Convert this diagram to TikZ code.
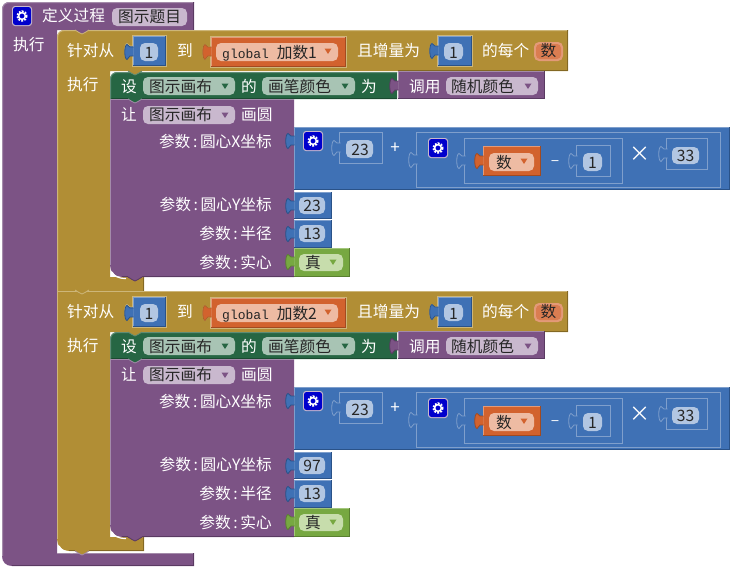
\documentclass[tikz,border=0pt]{standalone}
\usepackage{fontspec}
\setmainfont{Noto Sans CJK SC}
\newfontfamily\gfont{Liberation Mono}
\definecolor{purB}{HTML}{7C5385}\definecolor{purL}{HTML}{A48BAA}\definecolor{purD}{HTML}{5A3A62}\definecolor{purP}{HTML}{C9B8CE}
\definecolor{golB}{HTML}{B18E35}\definecolor{golL}{HTML}{CDB679}\definecolor{golD}{HTML}{836823}
\definecolor{grnB}{HTML}{266643}\definecolor{grnL}{HTML}{5F8C74}\definecolor{grnD}{HTML}{1A4A30}\definecolor{grnP}{HTML}{A8C4B4}
\definecolor{bluB}{HTML}{3F71B5}\definecolor{bluL}{HTML}{7F9FCC}\definecolor{bluD}{HTML}{2A5288}\definecolor{bluP}{HTML}{B2C6E2}
\definecolor{oraB}{HTML}{D2622E}\definecolor{oraL}{HTML}{E39A78}\definecolor{oraD}{HTML}{A24A20}\definecolor{oraP}{HTML}{EEBBA3}
\definecolor{lgrB}{HTML}{77A841}\definecolor{lgrL}{HTML}{A3C67C}\definecolor{lgrD}{HTML}{597F30}\definecolor{lgrP}{HTML}{C7DDAC}
\definecolor{inkT}{HTML}{262626}
\newcommand{\Cln}{\hspace{2.6pt}:\hspace{2.6pt}}
\tikzset{
  every node/.style={font=\fontsize{15.7}{18}\selectfont, inner sep=0pt},
  tw/.style={text=white, anchor=base west, yshift=-6pt},
  twe/.style={text=white, anchor=base east, yshift=-6pt},
  twc/.style={text=white, anchor=base, yshift=-6pt},
  tk/.style={text=inkT, anchor=base west, yshift=-6pt},
  tkc/.style={text=inkT, anchor=base, yshift=-6pt},
  bev/.style={line width=1pt, line cap=butt}
}
% rectangular block with bevel: colour prefix, x1,y1,x2,y2
\newcommand{\Blk}[5]{%
  \fill[#1B] (#2,#3) rectangle (#4,#5);
  \draw[bev,#1L] (#2+.5,#5) -- (#2+.5,#3+.5) -- (#4,#3+.5);
  \draw[bev,#1D] (#2,#5-.5) -- (#4-.5,#5-.5) -- (#4-.5,#3);
}
% puzzle tab on the left of x at height y
\newcommand{\Tab}[4]{%
  \path[fill=#1,draw=#2,line width=.8pt] (#3+.6,#4-5) -- (#3-3,#4-5) .. controls (#3-5,#4-5) and (#3-4,#4-7.5) .. (#3-6,#4-7.5)
    .. controls (#3-9,#4-7) and (#3-9,#4+7) .. (#3-6,#4+7.5)
    .. controls (#3-4,#4+7.5) and (#3-5,#4+4) .. (#3-3,#4+4) -- (#3+.6,#4+4);
}
% socket outline around a value block
\newcommand{\Sock}[6]{%
  \draw[line width=1pt,#6] (#2-.5,#3-.5) rectangle (#4+.5,#5+.5);
  \pgfmathsetmacro\sockmid{(#3+#5)/2}%
  \Tab{#1}{#6}{#2}{\sockmid}
}
\newcommand{\Pill}[5]{\fill[#1,rounded corners=5pt] (#2,#3) rectangle (#4,#5);}
\newcommand{\Tri}[3]{\fill[#1] (#2-3.5,#3-2.5) -- (#2+3.5,#3-2.5) -- (#2,#3+3) -- cycle;}
\newcommand{\Gear}[2]{%
  \fill[purL!60!white,rounded corners=3pt] (#1-1,#2-1) rectangle (#1+19,#2+19);
  \fill[blue!80!black,rounded corners=2.5pt] (#1,#2) rectangle (#1+18,#2+18);
  \draw[white,line width=2.2pt,dash pattern=on 1.7pt off 1.3pt] (#1+9,#2+9) circle[radius=4.6];
  \draw[white,line width=1.5pt] (#1+9,#2+9) circle[radius=3.4];
}
% notch tab hanging from a block's lower edge
\newcommand{\Drop}[4]{%
  \fill[#1] (#2,#3-1) -- (#2,#3) -- (#2+4,#3+2.5) .. controls (#2+6,#3+4.5) and (#2+8,#3+4.5) .. (#2+10,#3+2.5) -- (#2+14,#3) -- (#2+14,#3-1) -- cycle;
  \draw[line width=.8pt,#4] (#2,#3) -- (#2+4,#3+2.5) .. controls (#2+6,#3+4.5) and (#2+8,#3+4.5) .. (#2+10,#3+2.5) -- (#2+14,#3);
}
% everything of one counting loop body, header and circle-drawing
\newcommand{\LoopContent}[3]{%
  \begin{scope}[shift={(0,#1)}, name prefix=#3]
    % set colour block
    \path[fill=grnB] (110,99) -- (110,80) .. controls (110,75) and (113,72) .. (118,72) -- (397,72) -- (397,99) -- cycle;
    \draw[bev,grnD] (110,98.5) -- (397,98.5);
    \draw[bev,grnL] (110.5,99) -- (110.5,80) .. controls (110.5,75) and (113,72.5) .. (118,72.5) -- (397,72.5);
    % call block
    \Blk{pur}{398}{71}{545}{99}
    \Tab{purB}{purD}{398}{86}
    % draw circle block
    \path[fill=purB] (110,99) -- (294,99) -- (294,277) -- (122,277) .. controls (115,277) and (110,272) .. (110,265) -- cycle;
    \draw[bev,purL] (110.5,265) -- (110.5,99.5) -- (294,99.5);
    \draw[bev,purD] (122,276.5) -- (294,276.5);
    \draw[white,line width=1.2pt] (112,272) .. controls (114,276) and (118,278.5) .. (126,278.5);
    % tabs of the blocks above and below
    \Drop{grnB}{128}{99}{purL}
    \Drop{purB}{128}{277}{purD}
    % set-block content
    \node[tw] (she) at (121,86) {设};
    \Pill{grnP}{143}{77}{235}{95}
    \node[tk] (canvasA) at (149,86) {图示画布};
    \Tri{grnB}{225}{86}
    \node[tw] (de) at (241,86) {的};
    \Pill{grnP}{262}{77}{355}{95}
    \node[tk] (penc) at (268,86) {画笔颜色};
    \Tri{grnB}{345}{86}
    \node[tw] (wei) at (361,86) {为};
    \node[tw] (call) at (409,86) {调用};
    \Pill{purP}{446}{77}{538}{95}
    \node[tk] (rand) at (451,86) {随机颜色};
    \Tri{purB}{528}{86}
    % draw-circle content
    \node[tw] (rang) at (121,114) {让};
    \Pill{purP}{143}{106}{235}{124}
    \node[tk] (canvasB) at (149,114.5) {图示画布};
    \Tri{purB}{225}{115}
    \node[tw] (circ) at (241,114.5) {画圆};
    \node[twe] (argx) at (272,141.5) {参数\Cln 圆心X坐标};
    \node[twe] (argy) at (272,204.5) {参数\Cln 圆心Y坐标};
    \node[twe] (argr) at (272,233.5) {参数\Cln 半径};
    \node[twe] (argf) at (272,262) {参数\Cln 实心};
    % math block
    \Blk{blu}{294}{127}{730}{190}
    \Tab{bluB}{bluD}{294}{141}
    \Gear{304}{132}
    \Sock{bluB}{340}{133}{382}{163}{bluL}
    \Pill{bluP}{346}{140}{373}{158}
    \node[tkc] (n23) at (360,149) {23};
    \node[twc,font=\fontsize{17}{18}\selectfont] (plus) at (395,147) {+};
    \Sock{bluB}{417}{133}{720}{187}{bluL}
    \Gear{429}{139}
    \Sock{bluB}{465}{139}{622}{183}{bluL}
    \Blk{ora}{483}{146}{541}{176}
    \Tab{oraB}{oraD}{483}{161}
    \Pill{oraP}{489}{153}{534}{171}
    \node[tk] (var) at (496,162) {数};
    \Tri{oraB}{524}{161}
    \node[twc] (minus) at (555,159) {–};
    \Sock{bluB}{577}{146}{610}{176}{bluL}
    \Pill{bluP}{583}{153}{602}{171}
    \node[tkc] (none) at (592.5,162) {1};
    \node[twc,font=\fontsize{21}{22}\selectfont] (times) at (640,155) {×};
    \Sock{bluB}{667}{139}{707}{169}{bluL}
    \Pill{bluP}{672}{147}{699}{164}
    \node[tkc] (n33) at (685.5,155.5) {33};
    % value blocks
    \Blk{blu}{294}{192}{332}{219}
    \Tab{bluB}{bluD}{294}{206}
    \Pill{bluP}{299}{197}{325}{214}
    \node[tkc] (vy) at (312,205) {#2};
    \Blk{blu}{294}{220}{332}{248}
    \Tab{bluB}{bluD}{294}{234}
    \Pill{bluP}{299}{225}{325}{242}
    \node[tkc] (vr) at (312,233.5) {13};
    \Blk{lgr}{294}{248}{350}{277}
    \Tab{lgrB}{lgrD}{294}{262}
    \Pill{lgrP}{299}{254}{343}{271}
    \node[tk] (vf) at (305,262.5) {真};
    \Tri{lgrB}{333}{262}
  \end{scope}
}
% header row of a loop
\newcommand{\LoopHead}[3]{%
  \begin{scope}[shift={(0,#1)}, name prefix=#3]
    \node[tw] (from) at (67,50) {针对从};
    \node[tw] (doit) at (67,84) {执行};
    \Sock{bluB}{133}{36}{166}{66}{golL}
    \Blk{blu}{133}{36}{166}{66}
    \Tab{bluB}{bluD}{133}{52}
    \Pill{bluP}{140}{43}{158}{61}
    \node[tkc] (start) at (149,52) {1};
    \node[tw] (to) at (177,50) {到};
    \Sock{oraB}{211}{37}{346}{67}{golL}
    \Blk{ora}{211}{37}{346}{67}
    \Tab{oraB}{golB!40!oraD}{211}{52}
    \Pill{oraP}{216}{43}{338}{61}
    \node[tk] (glob) at (222,52) {{\gfont\fontsize{13}{16}\selectfont global }#2};
    \Tri{oraB}{328}{51}
    \node[tw] (by) at (357,50) {且增量为};
    \Sock{bluB}{438}{36}{472}{66}{golL}
    \Blk{blu}{438}{36}{472}{66}
    \Tab{bluB}{bluD}{438}{51}
    \Pill{bluP}{444}{43}{463}{60}
    \node[tkc] (incr) at (453.5,52) {1};
    \node[tw] (each) at (482,50) {的每个};
    \fill[oraL,rounded corners=5pt] (534,42) rectangle (563,61);
    \fill[oraB!70!oraP,rounded corners=4pt] (536,44) rectangle (561,59);
    \node[tkc] (item) at (548.5,50.5) {数};
  \end{scope}
}
\begin{document}
\begin{tikzpicture}[x=1pt,y=-1pt]
  \useasboundingbox (0,0) rectangle (733,568);
  % outer procedure block
  \path[fill=purB] (2,10) .. controls (2,5) and (5,2) .. (10,2) -- (194,2) -- (194,30) -- (57,30) -- (57,553) -- (194,553) -- (194,566) -- (12,566) .. controls (6,566) and (2,562) .. (2,556) -- cycle;
  \draw[bev,purL] (2.5,556) -- (2.5,10) .. controls (2.5,5) and (5,2.5) .. (10,2.5) -- (194,2.5);
  \draw[bev,purL] (57,553.5) -- (193.5,553.5);
  \draw[bev,purD] (12,565.5) -- (193.5,565.5) -- (193.5,553);
  \draw[bev,purD] (193.5,2) -- (193.5,30);
  \Gear{13}{7}
  \node[tw] (defp) at (42,15.5) {定义过程};
  \Pill{purP}{112}{8}{187}{26}
  \node[tk] (title) at (118,16.5) {图示题目};
  \node[tw] (exec) at (13,44) {执行};
  % first loop, gold C shape
  \path[fill=golB] (57,38) .. controls (57,33) and (60,30) .. (65,30) -- (568,30) -- (568,71) -- (110,71) -- (110,277) -- (144,277) -- (144,291) -- (57,291) -- cycle;
  \draw[bev,golL] (57.5,291) -- (57.5,38) .. controls (57.5,33) and (60,30.5) .. (65,30.5) -- (568,30.5);
  \draw[bev,golD] (567.5,30) -- (567.5,70.5) -- (398,70.5);
  \draw[bev,golD] (143.5,277) -- (143.5,290.5);
  % second loop
  \path[fill=golB] (57,291) -- (568,291) -- (568,332) -- (110,332) -- (110,537) -- (144,537) -- (144,551) -- (69,551) .. controls (62,551) and (57,546) .. (57,539) -- cycle;
  \draw[bev,golL] (57.5,539) -- (57.5,291.5) -- (568,291.5);
  \draw[bev,golD] (567.5,291) -- (567.5,331.5) -- (398,331.5);
  \draw[bev,golD] (69,550.5) -- (143.5,550.5) -- (143.5,537);
  \draw[white,line width=1.2pt] (59,546) .. controls (61,550) and (65,552.5) .. (73,552.5);
  \LoopContent{0}{23}{a}
  \LoopContent{260}{97}{b}
  \LoopHead{0}{加数1}{c}
  \LoopHead{261}{加数2}{d}
  % tabs over the next block
  \Drop{purB}{75}{30}{golL}
  \Drop{golB}{75}{290}{golL}
  \Drop{golB}{75}{551}{purL}
  \Drop{golB}{128}{71}{grnL}
  \Drop{golB}{128}{332}{grnL}
\end{tikzpicture}
\end{document}
